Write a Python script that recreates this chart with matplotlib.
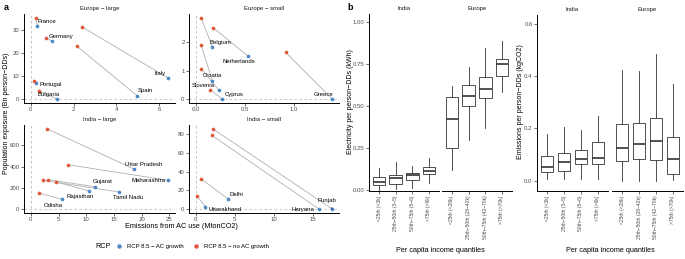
import matplotlib
matplotlib.use("Agg")
import matplotlib.pyplot as plt
from matplotlib.lines import Line2D

plt.rcParams['font.family'] = ['Liberation Sans', 'DejaVu Sans']

# ---------------- DATA ----------------
# Panel a : Europe - large
el_names = ["France", "Germany", "Italy", "Spain", "Portugal", "Bulgaria"]
el_noac_x = [0.22, 0.72, 2.38, 2.15, 0.16, 0.39]
el_noac_y = [35.1, 26.4, 31.3, 22.9, 7.8, 3.4]
el_ac_x = [0.30, 1.01, 6.42, 4.98, 0.25, 1.23]
el_ac_y = [31.7, 25.0, 9.1, 1.3, 7.0, 0.0]

# Europe - small
es_names = ["Belgium", "Netherlands", "Greece", "Croatia", "Slovenia", "Cyprus"]
es_noac_x = [0.054, 0.18, 0.915, 0.054, 0.057, 0.145]
es_noac_y = [2.86, 2.51, 1.65, 1.90, 1.06, 0.33]
es_ac_x = [0.17, 0.53, 1.39, 0.17, 0.237, 0.27]
es_ac_y = [1.84, 1.52, 0.0, 0.64, 0.30, 0.0]

# India - large
il_names = ["Uttar Pradesh", "Maharashtra", "Gujarat", "Tamil Nadu", "Rajasthan", "Odisha"]
il_noac_x = [3.0, 6.7, 3.1, 2.2, 4.6, 1.4]
il_noac_y = [753, 417, 276, 270, 254, 151]
il_ac_x = [18.7, 24.8, 11.5, 15.9, 10.5, 5.6]
il_ac_y = [374, 270, 210, 160, 170, 91]

# India - small
is_names = ["Punjab", "Haryana", "Delhi", "Uttarakhand"]
is_noac_x = [2.21, 2.04, 0.72, 0.12]
is_noac_y = [85.6, 78.9, 32.1, 14.3]
is_ac_x = [17.5, 15.8, 4.13, 1.23]
is_ac_y = [0.0, 0.0, 10.7, 2.5]

series_labels = ["RCP 8.5 \u2212 AC growth", "RCP 8.5 \u2212 no AC growth"]

# Panel b : income quantile categories
cat_india = ["<25th (<3k)", "25th\u221250th (3\u22125)", "50th\u221275th (5\u22126)", ">75th (>6k)"]
cat_europe = ["<25th (<28k)", "25th\u221250th (28\u221242k)", "50th\u221275th (42\u221270k)", ">75th (>70k)"]

# Electricity per person-DDs (kWh): whisker low, Q1, median, Q3, whisker high
elec_india_low = [0.0, 0.005, 0.01, 0.044]
elec_india_q1 = [0.032, 0.038, 0.062, 0.095]
elec_india_med = [0.045, 0.072, 0.091, 0.112]
elec_india_q3 = [0.08, 0.092, 0.102, 0.138]
elec_india_high = [0.13, 0.165, 0.142, 0.19]
elec_europe_low = [0.12, 0.30, 0.37, 0.585]
elec_europe_q1 = [0.25, 0.50, 0.55, 0.68]
elec_europe_med = [0.42, 0.557, 0.60, 0.75]
elec_europe_q3 = [0.555, 0.625, 0.67, 0.78]
elec_europe_high = [0.62, 0.73, 0.845, 0.89]

# Emissions per person-DDs (kgCO2)
emis_india_low = [0.008, 0.006, 0.008, 0.008]
emis_india_q1 = [0.032, 0.036, 0.065, 0.065]
emis_india_med = [0.051, 0.073, 0.084, 0.089]
emis_india_q3 = [0.093, 0.106, 0.118, 0.148]
emis_india_high = [0.18, 0.205, 0.195, 0.247]
emis_europe_low = [0.0, 0.0, 0.0, 0.004]
emis_europe_q1 = [0.076, 0.084, 0.078, 0.027]
emis_europe_med = [0.127, 0.139, 0.154, 0.085]
emis_europe_q3 = [0.218, 0.22, 0.242, 0.166]
emis_europe_high = [0.423, 0.42, 0.483, 0.37]

# ---------------- STYLE ----------------
BLUE = "#4D88C8"
RED = "#E0573E"
TICKCOL = "#4d4d4d"
W, H = 685, 259
fig = plt.figure(figsize=(W / 100, H / 100), dpi=100)


def px_axes(l, t, r, b):
    return fig.add_axes([l / W, 1 - b / H, (r - l) / W, (b - t) / H])


def style_axes(ax, left=True):
    for s in ["top", "right"]:
        ax.spines[s].set_visible(False)
    ax.spines["bottom"].set_linewidth(0.7)
    ax.spines["left"].set_linewidth(0.7)
    if not left:
        ax.spines["left"].set_visible(False)
        ax.tick_params(axis="y", left=False, labelleft=False)
    ax.tick_params(length=2, width=0.5, pad=1.2, labelsize=4.3, labelcolor=TICKCOL, color="#333333")


def scatter_facet(ax, title, names, nx, ny, bx, by, offsets, xticks, yticks, xlabels=None):
    for i in range(len(names)):
        ax.plot([nx[i], bx[i]], [ny[i], by[i]], color="#b0b0b0", lw=0.6, zorder=1)
    ax.axvline(0, ls=(0, (3, 3)), color="#bdbdbd", lw=0.6, zorder=0)
    ax.axhline(0, ls=(0, (3, 3)), color="#bdbdbd", lw=0.6, zorder=0)
    ax.scatter(bx, by, s=7, color=BLUE, zorder=3, linewidths=0)
    ax.scatter(nx, ny, s=7, color=RED, zorder=3, linewidths=0)
    xs = list(nx) + list(bx) + [0]
    ys = list(ny) + list(by) + [0]
    xr = max(xs) - min(xs)
    yr = max(ys) - min(ys)
    ax.set_xlim(min(xs) - 0.05 * xr, max(xs) + 0.05 * xr)
    ax.set_ylim(min(ys) - 0.05 * yr, max(ys) + 0.05 * yr)
    for i, name in enumerate(names):
        dx, dy, ha, arrow = offsets[name]
        kw = {}
        if arrow:
            kw["arrowprops"] = dict(arrowstyle="-", color="black", lw=0.4, shrinkA=1, shrinkB=1.5)
        ax.annotate(name, (bx[i], by[i]), xytext=(dx, dy), textcoords="offset points",
                    ha=ha, va="center", fontsize=4.3, color="black", zorder=4, **kw)
    ax.set_xticks(xticks)
    if xlabels is not None:
        ax.set_xticklabels(xlabels)
    ax.set_yticks(yticks)
    ax.set_title(title, fontsize=4.3, pad=3, color="#1a1a1a")
    style_axes(ax)


label_offsets = {
    "France": (0.5, 2.9, "left", False),
    "Germany": (-2.7, 3.8, "left", False),
    "Italy": (-1.7, 3.3, "right", False),
    "Spain": (6, 3.6, "center", False),
    "Portugal": (2.7, -1.4, "left", False),
    "Bulgaria": (-13.9, 3.1, "left", False),
    "Belgium": (5.8, 3.4, "center", False),
    "Netherlands": (-6.5, -3.8, "center", False),
    "Greece": (-6.5, 3.1, "center", False),
    "Croatia": (0.3, 3.6, "center", False),
    "Slovenia": (-11.3, 3.4, "center", False),
    "Cyprus": (1.4, 2.9, "left", False),
    "Uttar Pradesh": (6.5, 3.6, "center", False),
    "Maharashtra": (-2.2, 0, "right", False),
    "Gujarat": (6, 3.6, "center", False),
    "Tamil Nadu": (6.5, -3.8, "center", False),
    "Rajasthan": (-6, -3.8, "center", False),
    "Odisha": (-6, -4.1, "center", False),
    "Punjab": (-3.6, 5.8, "center", True),
    "Haryana": (-11.5, 0, "center", False),
    "Delhi": (6.3, 3.6, "center", False),
    "Uttarakhand": (14, -1.7, "center", False),
}

ax1 = px_axes(24, 14, 175, 103)
scatter_facet(ax1, "Europe \u2212 large", el_names, el_noac_x, el_noac_y, el_ac_x, el_ac_y,
              label_offsets, [0, 2, 4, 6], [0, 10, 20, 30])
ax2 = px_axes(189, 14, 339, 103)
scatter_facet(ax2, "Europe \u2212 small", es_names, es_noac_x, es_noac_y, es_ac_x, es_ac_y,
              label_offsets, [0.0, 0.5, 1.0], [0, 1, 2], ["0.0", "0.5", "1.0"])
ax3 = px_axes(24, 125, 175, 213)
scatter_facet(ax3, "India \u2212 large", il_names, il_noac_x, il_noac_y, il_ac_x, il_ac_y,
              label_offsets, [0, 5, 10, 15, 20, 25], [0, 200, 400, 600])
ax4 = px_axes(189, 125, 339, 213)
scatter_facet(ax4, "India \u2212 small", is_names, is_noac_x, is_noac_y, is_ac_x, is_ac_y,
              label_offsets, [0, 5, 10, 15], [0, 20, 40, 60, 80])

fig.text(6.5 / W, 1 - 113.5 / H, "Population exposure (Bn person\u2212DDs)", rotation=90,
         ha="center", va="center", fontsize=5.0)
fig.text(181 / W, 1 - 226 / H, "Emissions from AC use (MtonCO2)", ha="center", va="center", fontsize=5.2)

# legend
fig.text(103 / W, 1 - 246.7 / H, "RCP", ha="center", va="center", fontsize=5.2)
handles = [Line2D([], [], marker="o", ls="", color=BLUE, markersize=2.2),
           Line2D([], [], marker="o", ls="", color=RED, markersize=2.2)]
fig.legend(handles, series_labels, ncol=2, loc="center left",
           bbox_to_anchor=(116 / W, 1 - 246.7 / H), frameon=False, fontsize=4.3,
           handlelength=1.0, handletextpad=0.8, columnspacing=1.6, borderpad=0, borderaxespad=0)

fig.text(4 / W, 1 - 8 / H, "a", fontsize=6.5, fontweight="bold", ha="left", va="center")
fig.text(347 / W, 1 - 8 / H, "b", fontsize=6.5, fontweight="bold", ha="left", va="center")


# ---------------- Panel b ----------------
def box_facet(ax, cats, low, q1, med, q3, high, title, ylim, yticks, yticklabels, left):
    stats = []
    for i, c in enumerate(cats):
        stats.append(dict(label=c, whislo=low[i], q1=q1[i], med=med[i], q3=q3[i], whishi=high[i]))
    ax.bxp(stats, positions=[1, 2, 3, 4], widths=0.75, showfliers=False, showcaps=False,
           patch_artist=True,
           boxprops=dict(facecolor="white", edgecolor="#333333", linewidth=0.6),
           medianprops=dict(color="#333333", linewidth=1.2),
           whiskerprops=dict(color="#333333", linewidth=0.6))
    ax.set_xlim(0.4, 4.6)
    ax.set_ylim(*ylim)
    ax.set_yticks(yticks)
    ax.set_yticklabels(yticklabels)
    style_axes(ax, left=left)
    ax.tick_params(axis="x", labelrotation=90, labelsize=3.6)
    for lab in ax.get_xticklabels():
        lab.set_va("top")
        lab.set_ha("center")
    ax.set_title(title, fontsize=4.3, pad=3, color="#1a1a1a")


e1 = px_axes(369, 14, 439, 191)
box_facet(e1, cat_india, elec_india_low, elec_india_q1, elec_india_med, elec_india_q3, elec_india_high,
          "India", (-0.006, 1.048), [0, 0.25, 0.5, 0.75, 1.0], ["0.00", "0.25", "0.50", "0.75", "1.00"], True)
e2 = px_axes(442, 14, 512, 191)
box_facet(e2, cat_europe, elec_europe_low, elec_europe_q1, elec_europe_med, elec_europe_q3, elec_europe_high,
          "Europe", (-0.006, 1.048), [0, 0.25, 0.5, 0.75, 1.0], ["0.00", "0.25", "0.50", "0.75", "1.00"], False)
m1 = px_axes(537, 15, 608, 191)
box_facet(m1, cat_india, emis_india_low, emis_india_q1, emis_india_med, emis_india_q3, emis_india_high,
          "India", (-0.039, 0.634), [0, 0.2, 0.4, 0.6], ["0.0", "0.2", "0.4", "0.6"], True)
m2 = px_axes(612, 15, 683, 191)
box_facet(m2, cat_europe, emis_europe_low, emis_europe_q1, emis_europe_med, emis_europe_q3, emis_europe_high,
          "Europe", (-0.039, 0.634), [0, 0.2, 0.4, 0.6], ["0.0", "0.2", "0.4", "0.6"], False)

fig.text(350 / W, 1 - 102 / H, "Electricity per person\u2212DDs (kWh)", rotation=90,
         ha="center", va="center", fontsize=5.0)
fig.text(520 / W, 1 - 102 / H, "Emissions per person\u2212DDs (kgCO2)", rotation=90,
         ha="center", va="center", fontsize=5.0)
fig.text(440 / W, 1 - 251 / H, "Per capita income quantiles", ha="center", va="center", fontsize=5.2)
fig.text(610 / W, 1 - 251 / H, "Per capita income quantiles", ha="center", va="center", fontsize=5.2)

fig.savefig("out.png", dpi=100)
